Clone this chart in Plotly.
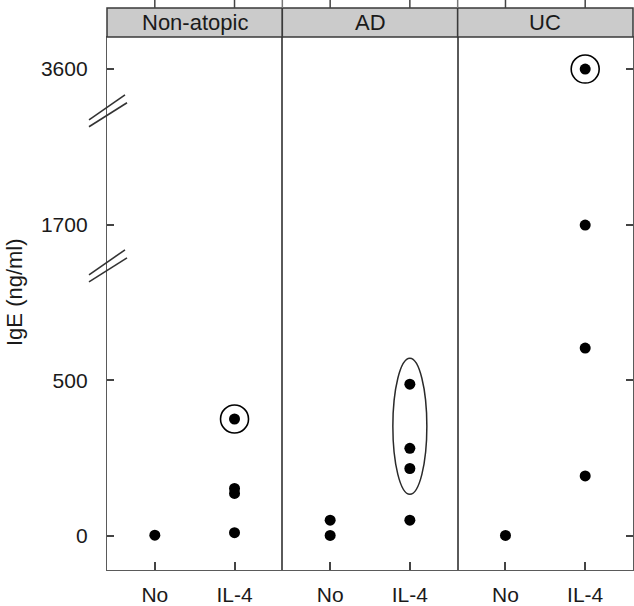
import plotly.graph_objects as go

# ---------------- data ----------------
panels = ["Non-atopic", "AD", "UC"]
treatments = ["No", "IL-4"]

nonatopic_no = [3]
nonatopic_il4 = [376, 153, 137, 11]
ad_no = [51, 2]
ad_il4 = [488, 282, 217, 51]
uc_no = [2]
uc_il4 = [3600, 1699, 604, 193]

circled_nonatopic_il4 = [376]
circled_uc_il4 = [3600]
ellipse_ad_il4 = [488, 282, 217]

y_tick_values = [0, 500, 1700, 3600]
y_tick_labels = ["0", "500", "1700", "3600"]

# broken axis: (upper raw limit of segment, offset subtracted)
axis_segments = [(1000, 0), (2500, 700), (float("inf"), 2100)]


def to_axis(v):
    for hi, off in axis_segments:
        if v < hi:
            return v - off
    return v


FONT = "Liberation Sans, Arial, Helvetica, sans-serif"
LINE = "#5a5a5a"
TXT = "#1a1a1a"
FS = 21

panel_data = [
    (nonatopic_no, nonatopic_il4),
    (ad_no, ad_il4),
    (uc_no, uc_il4),
]
circled = [([], circled_nonatopic_il4), ([], []), ([], circled_uc_il4)]

fig = go.Figure()
for i, (no_v, il_v) in enumerate(panel_data):
    xa = "x" if i == 0 else f"x{i+1}"
    ya = "y" if i == 0 else f"y{i+1}"
    xs = [treatments[0]] * len(no_v) + [treatments[1]] * len(il_v)
    ys = [to_axis(v) for v in no_v + il_v]
    fig.add_trace(go.Scatter(
        x=xs, y=ys, mode="markers", xaxis=xa, yaxis=ya,
        marker=dict(color="black", size=11, line=dict(width=0)),
        hoverinfo="skip", showlegend=False, cliponaxis=False))
    c_no, c_il = circled[i]
    if c_no or c_il:
        cx = [treatments[0]] * len(c_no) + [treatments[1]] * len(c_il)
        cy = [to_axis(v) for v in c_no + c_il]
        fig.add_trace(go.Scatter(
            x=cx, y=cy, mode="markers", xaxis=xa, yaxis=ya,
            marker=dict(symbol="circle-open", size=28, color="black",
                        line=dict(width=1.6, color="black")),
            hoverinfo="skip", showlegend=False, cliponaxis=False))

# ellipse around the grouped AD IL-4 points
e_lo, e_hi = to_axis(min(ellipse_ad_il4)), to_axis(max(ellipse_ad_il4))
fig.add_shape(type="circle", xref="x2", yref="y2",
              xsizemode="pixel", ysizemode="pixel",
              xanchor=treatments[1], yanchor=(e_lo + e_hi) / 2,
              x0=-17, x1=17, y0=-68, y1=68,
              line=dict(color="#2a2a2a", width=1.5))

axis_common = dict(
    showline=True, linecolor=LINE, linewidth=1.4, mirror=True,
    showgrid=False, zeroline=False, automargin=False,
    tickfont=dict(family=FONT, size=FS, color=TXT),
)

layout = dict(
    width=634, height=606,
    margin=dict(l=107, r=1, t=37, b=36, autoexpand=False),
    paper_bgcolor="white", plot_bgcolor="white",
    showlegend=False,
)
for i in range(3):
    xk = "xaxis" if i == 0 else f"xaxis{i+1}"
    yk = "yaxis" if i == 0 else f"yaxis{i+1}"
    ya = "y" if i == 0 else f"y{i+1}"
    xa = "x" if i == 0 else f"x{i+1}"
    layout[xk] = dict(
        axis_common, domain=[i / 3, (i + 1) / 3], anchor=ya,
        type="category", categoryorder="array", categoryarray=treatments,
        range=[-0.6, 1.6], ticks="inside", ticklen=8, tickwidth=1.5,
        tickcolor="#444", ticklabelstandoff=6)
    ydict = dict(axis_common, domain=[0, 1], anchor=xa,
                 range=[-109, 1603],
                 tickvals=[to_axis(v) for v in y_tick_values],
                 ticktext=y_tick_labels)
    if i == 0:
        ydict.update(ticks="inside", ticklen=7, tickwidth=1.5,
                     tickcolor="#444", ticklabelstandoff=14)
    elif i == 1:
        ydict.update(matches="y", ticks="", showticklabels=False)
    else:
        ydict.update(matches="y", side="right", ticks="inside", ticklen=7,
                     tickwidth=1.5, tickcolor="#444", showticklabels=False)
    layout[yk] = ydict

fig.update_layout(**layout)

# strips
plot_h = 606 - 37 - 36
strip_top = 1 + 29 / plot_h
page_top = 1 + 37 / plot_h
for i, name in enumerate(panels):
    fig.add_shape(type="rect", xref="paper", yref="paper",
                  x0=i / 3, x1=(i + 1) / 3, y0=1, y1=strip_top,
                  fillcolor="#cbcbcb", line=dict(color="#3a3a3a", width=1.5),
                  layer="above")
    fig.add_annotation(x=(i + 0.5) / 3, y=(1 + strip_top) / 2,
                       xref="paper", yref="paper", text=name,
                       showarrow=False, xanchor="center", yanchor="middle",
                       font=dict(family=FONT, size=22, color=TXT))
    xa = "x" if i == 0 else f"x{i+1}"
    for t in treatments:
        fig.add_shape(type="line", xref=xa, yref="paper",
                      x0=t, x1=t, y0=strip_top, y1=page_top,
                      line=dict(color="#444", width=1.5))
    if i > 0:
        fig.add_shape(type="line", xref="paper", yref="paper",
                      x0=i / 3, x1=i / 3, y0=strip_top, y1=page_top,
                      line=dict(color="#777", width=1.5))

# axis break marks
for b in [868, 1366]:
    for (xl, yl, xr, yr) in [(-18, -9, 18, 16), (-18, -16, 20, 8)]:
        fig.add_shape(type="line", xref="paper", yref="y",
                      xsizemode="pixel", ysizemode="pixel",
                      xanchor=0, yanchor=b,
                      x0=xl, y0=yl, x1=xr, y1=yr,
                      line=dict(color="#333", width=1.6))

# y title
fig.add_annotation(x=0, y=(570 - 292) / plot_h, xref="paper", yref="paper",
                   text="IgE (ng/ml)", textangle=-90, showarrow=False,
                   xanchor="center", yanchor="middle", xshift=-93,
                   font=dict(family=FONT, size=22, color=TXT))

fig.write_html(
    "out.html",
    config={"displayModeBar": False},
    post_script="document.body.style.margin='0';"
                "document.body.style.overflow='hidden';",
)
